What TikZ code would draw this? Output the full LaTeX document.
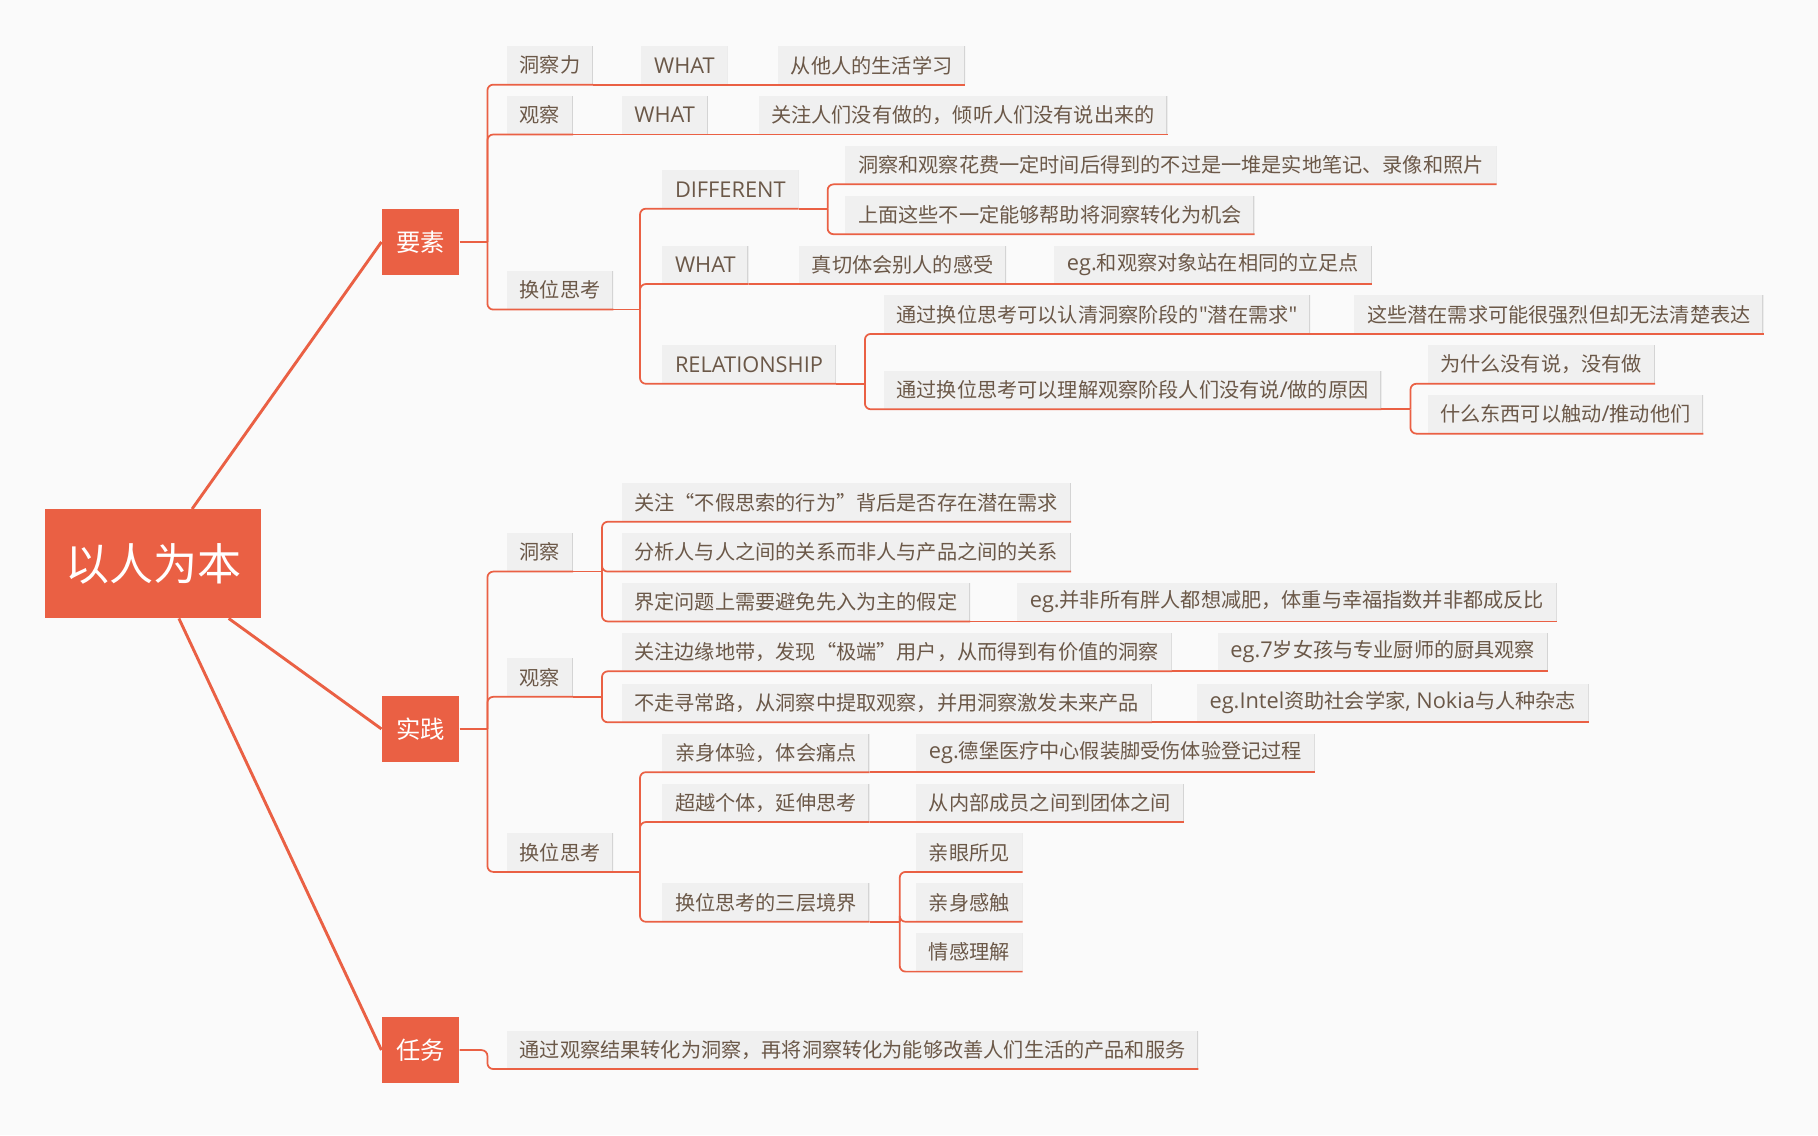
\documentclass[tikz,border=0pt]{standalone}
\usepackage{fontspec}
\setmainfont{Noto Sans CJK SC}
\newfontfamily\enfont[Scale=1.08]{Open Sans}
\usepackage{tikz}
\usepackage{xcolor}
\definecolor{mmorange}{HTML}{EA6044}
\definecolor{mmtext}{HTML}{6B5848}
\definecolor{mmbox}{HTML}{F0F0F0}
\definecolor{mmedge}{HTML}{D4D4D4}
\definecolor{mmback}{HTML}{FAFAFA}

\begin{document}
\begin{tikzpicture}[x=1pt, y=-1pt,
  topic/.style={fill=mmbox, text=mmtext, anchor=south west, inner xsep=11pt, inner ysep=0pt,
    minimum height=33pt, font=\fontsize{17.4}{20}\selectfont,
    path picture={\draw[mmedge, line width=1.5pt] (path picture bounding box.north east) -- (path picture bounding box.south east);}},
  main/.style={fill=mmorange, text=white, anchor=north west, minimum width=67pt, minimum height=57pt,
    inner sep=0pt, font=\fontsize{21}{24}\selectfont},
  link/.style={draw=mmorange, line width=1.5pt, rounded corners=5pt},
  spoke/.style={draw=mmorange, line width=2.5pt}]
  \fill[mmback] (0,0) rectangle (1568,979);
  % Centro
  \node[fill=mmorange, text=white, anchor=north west, minimum width=186pt, minimum height=94pt,
    inner sep=0pt, font=\fontsize{38}{44}\selectfont] (root) at (39,439) {以人为本};
  \node[main] (yaosu) at (329,180) {要素};
  \node[main] (shijian) at (329,600) {实践};
  \node[main] (renwu) at (329,877) {任务};
  \draw[spoke] (root) -- (yaosu.west);
  \draw[spoke] (root) -- (shijian.west);
  \draw[spoke] (root) -- (renwu.west);
  % 要素
  \node[topic] (dcl) at (437,73) {洞察力};
  \node[topic] (gc1) at (437,116) {观察};
  \node[topic] (hw1) at (437,267) {换位思考};
  \draw[link] (yaosu.east) -- ++(24,0);
  \draw[link] (yaosu.east) ++(24,0) |- (dcl.south west) -- (dcl.south east);
  \draw[link] (yaosu.east) ++(24,0) |- (gc1.south west) -- (gc1.south east);
  \draw[link] (yaosu.east) ++(24,0) |- (hw1.south west) -- (hw1.south east);
  \node[topic] (dclw) at (553,73) {\enfont WHAT};
  \node[topic] (dclwa) at (671,73) {从他人的生活学习};
  \draw[link] (dcl.south east) -- (dclw.south east);
  \draw[link] (dclw.south east) -- (dclwa.south east);
  \node[topic] (gc1w) at (536,116) {\enfont WHAT};
  \node[topic] (gc1wa) at (654,116) {关注人们没有做的，倾听人们没有说出来的};
  \draw[link] (gc1.south east) -- (gc1w.south east);
  \draw[link] (gc1w.south east) -- (gc1wa.south east);
  % 换位思考: DIFFERENT, WHAT, RELATIONSHIP
  \node[topic] (diff) at (571,180) {\enfont DIFFERENT};
  \node[topic] (hw1w) at (571,245) {\enfont WHAT};
  \node[topic] (rel) at (571,331) {\enfont RELATIONSHIP};
  \draw[link] (hw1.south east) -- ++(23,0);
  \draw[link] (hw1.south east) ++(23,0) |- (diff.south west) -- (diff.south east);
  \draw[link] (hw1.south east) ++(23,0) |- (hw1w.south west) -- (hw1w.south east);
  \draw[link] (hw1.south east) ++(23,0) |- (rel.south west) -- (rel.south east);
  \node[topic] (diffa) at (729,159) {洞察和观察花费一定时间后得到的不过是一堆是实地笔记、录像和照片};
  \node[topic] (diffb) at (729,202) {上面这些不一定能够帮助将洞察转化为机会};
  \draw[link] (diff.south east) -- ++(25,0);
  \draw[link] (diff.south east) ++(25,0) |- (diffa.south west) -- (diffa.south east);
  \draw[link] (diff.south east) ++(25,0) |- (diffb.south west) -- (diffb.south east);
  \node[topic] (hw1wa) at (689,245) {真切体会别人的感受};
  \node[topic] (hw1wb) at (909,245) {{\enfont eg.}和观察对象站在相同的立足点};
  \draw[link] (hw1w.south east) -- (hw1wa.south east);
  \draw[link] (hw1wa.south east) -- (hw1wb.south east);
  \node[topic] (rela) at (762,288) {通过换位思考可以认清洞察阶段的{\enfont\symbol{34}}潜在需求{\enfont\symbol{34}}};
  \node[topic] (relb) at (762,353) {通过换位思考可以理解观察阶段人们没有说{\enfont /}做的原因};
  \draw[link] (rel.south east) -- ++(25,0);
  \draw[link] (rel.south east) ++(25,0) |- (rela.south west) -- (rela.south east);
  \draw[link] (rel.south east) ++(25,0) |- (relb.south west) -- (relb.south east);
  \node[topic] (relaa) at (1168,288) {这些潜在需求可能很强烈但却无法清楚表达};
  \draw[link] (rela.south east) -- (relaa.south east);
  \node[topic] (relba) at (1231,331) {为什么没有说，没有做};
  \node[topic] (relbb) at (1231,374) {什么东西可以触动{\enfont /}推动他们};
  \draw[link] (relb.south east) -- ++(25,0);
  \draw[link] (relb.south east) ++(25,0) |- (relba.south west) -- (relba.south east);
  \draw[link] (relb.south east) ++(25,0) |- (relbb.south west) -- (relbb.south east);
  % 实践
  \node[topic] (dc2) at (437,493) {洞察};
  \node[topic] (gc2) at (437,601) {观察};
  \node[topic] (hw2) at (437,752) {换位思考};
  \draw[link] (shijian.east) -- ++(24,0);
  \draw[link] (shijian.east) ++(24,0) |- (dc2.south west) -- (dc2.south east);
  \draw[link] (shijian.east) ++(24,0) |- (gc2.south west) -- (gc2.south east);
  \draw[link] (shijian.east) ++(24,0) |- (hw2.south west) -- (hw2.south east);
  \node[topic] (dc2a) at (536,450) {关注“不假思索的行为”背后是否存在潜在需求};
  \node[topic] (dc2b) at (536,493) {分析人与人之间的关系而非人与产品之间的关系};
  \node[topic] (dc2c) at (536,536) {界定问题上需要避免先入为主的假定};
  \draw[link] (dc2.south east) -- ++(25,0);
  \draw[link] (dc2.south east) ++(25,0) |- (dc2a.south west) -- (dc2a.south east);
  \draw[link] (dc2.south east) ++(25,0) |- (dc2b.south west) -- (dc2b.south east);
  \draw[link] (dc2.south east) ++(25,0) |- (dc2c.south west) -- (dc2c.south east);
  \node[topic] (dc2ca) at (877,536) {{\enfont eg.}并非所有胖人都想减肥，体重与幸福指数并非都成反比};
  \draw[link] (dc2c.south east) -- (dc2ca.south east);
  \node[topic] (gc2a) at (536,579) {关注边缘地带，发现“极端”用户，从而得到有价值的洞察};
  \node[topic] (gc2b) at (536,623) {不走寻常路，从洞察中提取观察，并用洞察激发未来产品};
  \draw[link] (gc2.south east) -- ++(25,0);
  \draw[link] (gc2.south east) ++(25,0) |- (gc2a.south west) -- (gc2a.south east);
  \draw[link] (gc2.south east) ++(25,0) |- (gc2b.south west) -- (gc2b.south east);
  \node[topic] (gc2aa) at (1050,579) {{\enfont eg.7}岁女孩与专业厨师的厨具观察};
  \node[topic] (gc2ba) at (1032,623) {{\enfont eg.Intel}资助社会学家{\enfont , Nokia}与人种杂志};
  \draw[link] (gc2a.south east) -- (gc2aa.south east);
  \draw[link] (gc2b.south east) -- (gc2ba.south east);
  \node[topic] (hw2a) at (571,666) {亲身体验，体会痛点};
  \node[topic] (hw2b) at (571,709) {超越个体，延伸思考};
  \node[topic] (hw2c) at (571,795) {换位思考的三层境界};
  \draw[link] (hw2.south east) -- ++(23,0);
  \draw[link] (hw2.south east) ++(23,0) |- (hw2a.south west) -- (hw2a.south east);
  \draw[link] (hw2.south east) ++(23,0) |- (hw2b.south west) -- (hw2b.south east);
  \draw[link] (hw2.south east) ++(23,0) |- (hw2c.south west) -- (hw2c.south east);
  \node[topic] (hw2aa) at (790,666) {{\enfont eg.}德堡医疗中心假装脚受伤体验登记过程};
  \node[topic] (hw2ba) at (790,709) {从内部成员之间到团体之间};
  \draw[link] (hw2a.south east) -- (hw2aa.south east);
  \draw[link] (hw2b.south east) -- (hw2ba.south east);
  \node[topic] (jj1) at (790,752) {亲眼所见};
  \node[topic] (jj2) at (790,795) {亲身感触};
  \node[topic] (jj3) at (790,838) {情感理解};
  \draw[link] (hw2c.south east) -- ++(26,0);
  \draw[link] (hw2c.south east) ++(26,0) |- (jj1.south west) -- (jj1.south east);
  \draw[link] (hw2c.south east) ++(26,0) |- (jj2.south west) -- (jj2.south east);
  \draw[link] (hw2c.south east) ++(26,0) |- (jj3.south west) -- (jj3.south east);
  % 任务
  \node[topic] (rw) at (437,922) {通过观察结果转化为洞察，再将洞察转化为能够改善人们生活的产品和服务};
  \draw[link] (renwu.east) -- ++(24,0) |- (rw.south west) -- (rw.south east);
\end{tikzpicture}
\end{document}
